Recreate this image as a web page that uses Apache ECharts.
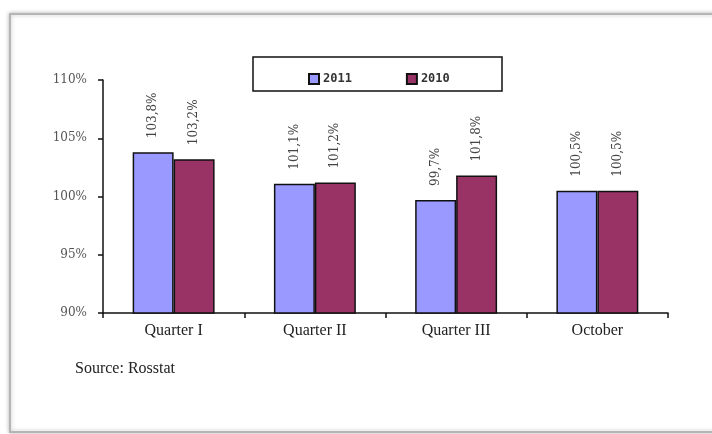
<!DOCTYPE html>
<html>
<head>
<meta charset="utf-8">
<script src="https://cdn.jsdelivr.net/npm/echarts@6/dist/echarts.min.js"></script>
<style>
  html, body { margin: 0; padding: 0; background: #fff; }
  #chart { width: 712px; height: 434px; }
</style>
</head>
<body>
<div id="chart"></div>
<script>
// Categories and year-on-year growth (%) for each period
const categories = ['Quarter I', 'Quarter II', 'Quarter III', 'October'];
const values2011 = [103.8, 101.1, 99.7, 100.5];
const values2010 = [103.2, 101.2, 101.8, 100.5];
const yTicks = { min: 90, max: 110, step: 5 };

const serif = '"Liberation Serif", "Times New Roman", serif';
const narrowSerif = '"DejaVu Serif", serif';

const chart = echarts.init(document.getElementById('chart'));

function pctLabel(p) {
  return p.value.toFixed(1).replace('.', ',') + '%';
}

const labelStyle = {
  show: true,
  position: 'top',
  rotate: 90,
  align: 'left',
  verticalAlign: 'middle',
  distance: 14,
  fontFamily: narrowSerif,
  fontSize: 12,
  color: '#444',
  formatter: pctLabel
};

chart.setOption({
  animation: false,
  backgroundColor: '#fff',
  graphic: [
    {
      type: 'rect',
      shape: { x: 10, y: 14, width: 720, height: 418 },
      style: { fill: '#fff', stroke: '#b5b5b5', lineWidth: 2, shadowBlur: 4, shadowColor: 'rgba(0,0,0,0.25)' },
      z: -10
    },
    {
      type: 'rect',
      shape: { x: 253, y: 57, width: 249, height: 34 },
      style: { fill: '#fff', stroke: '#111', lineWidth: 1.5 },
      z: 1
    },
    {
      type: 'text',
      left: 75,
      top: 361,
      style: { text: 'Source: Rosstat', font: '16px ' + serif, fill: '#222' }
    }
  ],
  legend: {
    left: 303,
    top: 68,
    itemWidth: 10,
    itemHeight: 10,
    itemGap: 54,
    icon: 'rect',
    z: 5,
    textStyle: { fontFamily: '"DejaVu Sans Mono", monospace', fontSize: 12, fontWeight: 'bold', color: '#333', padding: [0, 0, 0, -1] },
    data: ['2011', '2010']
  },
  grid: { left: 103, right: 44, top: 80, bottom: 121 },
  xAxis: {
    type: 'category',
    data: categories,
    axisLine: { lineStyle: { color: '#111', width: 1.5 } },
    axisTick: { show: true, length: 5, lineStyle: { color: '#111', width: 1.5 } },
    axisLabel: { fontFamily: serif, fontSize: 16, color: '#222', margin: 10 }
  },
  yAxis: {
    type: 'value',
    min: yTicks.min,
    max: yTicks.max,
    interval: yTicks.step,
    axisLine: { show: true, lineStyle: { color: '#111', width: 1.5 } },
    axisTick: { show: true, length: 5, lineStyle: { color: '#111', width: 1.5 } },
    splitLine: { show: false },
    axisLabel: { fontFamily: narrowSerif, fontSize: 12, color: '#555', margin: 16, formatter: '{value}%' }
  },
  series: [
    {
      name: '2011',
      type: 'bar',
      data: values2011,
      barGap: '0%',
      barCategoryGap: '42%',
      itemStyle: { color: '#9999ff', borderColor: '#111', borderWidth: 1.5 },
      label: labelStyle
    },
    {
      name: '2010',
      type: 'bar',
      data: values2010,
      itemStyle: { color: '#993366', borderColor: '#111', borderWidth: 1.5 },
      label: labelStyle
    }
  ]
});
</script>
</body>
</html>
